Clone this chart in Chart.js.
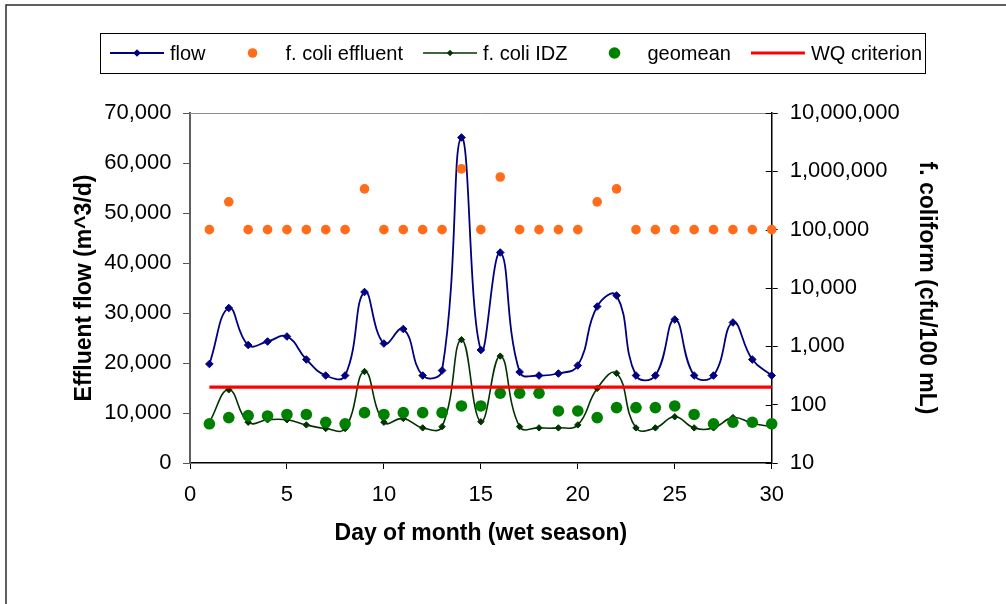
<!DOCTYPE html>
<html>
<head>
<meta charset="utf-8">
<title>Effluent flow and f. coliform (wet season)</title>
<script src="https://cdn.jsdelivr.net/npm/chart.js@4.4.1/dist/chart.umd.min.js"></script>
<style>
  html, body { margin: 0; padding: 0; background: #fff; }
  #wrap { position: relative; width: 1006px; height: 604px; }
</style>
</head>
<body>
<div id="wrap"><canvas id="chart" width="1006" height="604"></canvas></div>
<script>
// values, one per day
const days = [1, 2, 3, 4, 5, 6, 7, 8, 9, 10, 11, 12, 13, 14, 15, 16, 17, 18, 19, 20, 21, 22, 23, 24, 25, 26, 27, 28, 29, 30];
const flow = [19800, 31000, 23600, 24300, 25300, 20700, 17500, 17500, 34200, 23900, 26800, 17500, 18500, 65100, 22600,
              42100, 18200, 17500, 17900, 19500, 31300, 33500, 17500, 17500, 28700, 17500, 17500, 28100, 20700, 17500];
const fcoliEffluent = [100000, 300000, 100000, 100000, 100000, 100000, 100000, 100000, 500000, 100000, 100000, 100000, 100000, 1100000, 100000,
                       800000, 100000, 100000, 100000, 100000, 300000, 500000, 100000, 100000, 100000, 100000, 100000, 100000, 100000, 100000];
const fcoliIDZ = [50, 180, 50, 55, 55, 45, 39, 39, 370, 50, 58, 40, 42, 1300, 51,
                  680, 42, 40, 40, 45, 190, 345, 40, 40, 62, 40, 40, 60, 48, 42];
const geomean = [47, 60, 65, 64, 68, 68, 50, 47, 73, 68, 73, 73, 73, 95, 95,
                 157, 157, 157, 78, 78, 60, 89, 89, 89, 95, 68, 47, 50, 50, 47];
const wqDays = [1, 30];
const wqCriterion = [200, 200];

const dayTicks = [0, 5, 10, 15, 20, 25, 30];
const flowTicks = [0, 10000, 20000, 30000, 40000, 50000, 60000, 70000];
const coliTicks = [10, 100, 1000, 10000, 100000, 1000000, 10000000];

const FONT = "'Liberation Sans', Arial, sans-serif";

function points(xs, ys) {
  return xs.map((x, i) => ({ x: x, y: ys[i] }));
}

function commas(v) {
  return String(Math.round(v)).replace(/\B(?=(\d{3})+(?!\d))/g, ',');
}

function fixTicks(list) {
  return scale => { scale.ticks = list.map(v => ({ value: v })); };
}

// outer frame, plot top border, inner half of right-axis ticks
const frame = {
  id: 'frame',
  beforeDatasetsDraw(chart) {
    const { ctx, chartArea: a } = chart;
    ctx.save();
    ctx.strokeStyle = '#8c8c8c';
    ctx.lineWidth = 1;
    ctx.beginPath();
    ctx.moveTo(a.left, Math.round(a.top) + 0.5);
    ctx.lineTo(a.right, Math.round(a.top) + 0.5);
    ctx.stroke();

    const yc = chart.scales.yColi;
    ctx.strokeStyle = '#000';
    ctx.beginPath();
    coliTicks.forEach(v => {
      const y = Math.round(yc.getPixelForValue(v)) + 0.5;
      ctx.moveTo(a.right - 6, y);
      ctx.lineTo(a.right, y);
    });
    ctx.stroke();

    ctx.strokeStyle = '#2b2b2b';
    ctx.lineWidth = 1.5;
    ctx.strokeRect(6, 5, 1100, 700);
    ctx.restore();
  }
};

// Excel-style boxed legend
const legendBox = {
  id: 'legendBox',
  afterDraw(chart) {
    const ctx = chart.ctx;
    const box = { x: 100, y: 33, w: 825, h: 40 };
    const cy = box.y + box.h / 2;
    ctx.save();
    ctx.strokeStyle = '#000';
    ctx.lineWidth = 1;
    ctx.strokeRect(box.x + 0.5, box.y + 0.5, box.w, box.h);
    ctx.font = '20px ' + FONT;
    ctx.textBaseline = 'middle';
    let x = box.x + 10;
    chart.data.datasets.forEach(ds => {
      const mid = x + 27;
      if (ds.showLine !== false) {
        ctx.strokeStyle = ds.borderColor;
        ctx.lineWidth = ds.borderWidth;
        ctx.beginPath();
        ctx.moveTo(x, cy);
        ctx.lineTo(x + 54, cy);
        ctx.stroke();
      }
      if (ds.pointRadius > 0) {
        const r = ds.pointRadius;
        ctx.fillStyle = ds.pointBackgroundColor;
        ctx.beginPath();
        if (ds.pointStyle === 'rectRot') {
          ctx.moveTo(mid, cy - r);
          ctx.lineTo(mid + r, cy);
          ctx.lineTo(mid, cy + r);
          ctx.lineTo(mid - r, cy);
          ctx.closePath();
        } else {
          ctx.arc(mid, cy, r, 0, Math.PI * 2);
        }
        ctx.fill();
      }
      ctx.fillStyle = '#000';
      ctx.fillText(ds.label, x + 60, cy + 1);
      x += 60 + ctx.measureText(ds.label).width + 20;
    });
    ctx.restore();
  }
};

const tickFont = { family: FONT, size: 22 };
const titleFont = { family: FONT, size: 23, weight: 'bold' };

new Chart(document.getElementById('chart'), {
  type: 'line',
  data: {
    datasets: [
      {
        label: 'flow',
        data: points(days, flow),
        yAxisID: 'yFlow',
        borderColor: '#000080',
        borderWidth: 1.8,
        tension: 0.45,
        pointStyle: 'rectRot',
        pointRadius: 3.8,
        pointBorderWidth: 1,
        pointBackgroundColor: '#000080',
        pointBorderColor: '#000080',
        order: 5,
        clip: false
      },
      {
        label: 'f. coli effluent',
        data: points(days, fcoliEffluent),
        yAxisID: 'yColi',
        showLine: false,
        pointStyle: 'circle',
        pointRadius: 4.8,
        pointBorderWidth: 0,
        pointBackgroundColor: '#ff6d1a',
        borderColor: '#ff6d1a',
        order: 4,
        clip: false
      },
      {
        label: 'f. coli IDZ',
        data: points(days, fcoliIDZ),
        yAxisID: 'yColi',
        borderColor: '#003300',
        borderWidth: 1.6,
        tension: 0.45,
        pointStyle: 'rectRot',
        pointRadius: 3.2,
        pointBorderWidth: 1,
        pointBackgroundColor: '#003300',
        pointBorderColor: '#003300',
        order: 3,
        clip: false
      },
      {
        label: 'geomean',
        data: points(days, geomean),
        yAxisID: 'yColi',
        showLine: false,
        pointStyle: 'circle',
        pointRadius: 5.8,
        pointBorderWidth: 0,
        pointBackgroundColor: '#008000',
        borderColor: '#008000',
        order: 2,
        clip: false
      },
      {
        label: 'WQ criterion',
        data: points(wqDays, wqCriterion),
        yAxisID: 'yColi',
        borderColor: '#ff0000',
        borderWidth: 3.2,
        pointRadius: 0,
        pointBackgroundColor: '#ff0000',
        order: 1,
        clip: false
      }
    ]
  },
  options: {
    responsive: false,
    animation: false,
    layout: { padding: { top: 113, left: 0, right: 0, bottom: 0 } },
    plugins: {
      legend: { display: false },
      tooltip: { enabled: false }
    },
    scales: {
      x: {
        type: 'linear',
        position: 'bottom',
        min: 0,
        max: 30,
        afterBuildTicks: fixTicks(dayTicks),
        afterFit: s => { s.height = 141; },
        ticks: { color: '#000', font: tickFont, padding: 13, maxRotation: 0 },
        grid: { drawOnChartArea: false, drawTicks: true, tickLength: 6, color: '#000' },
        border: { color: '#000', width: 1.5 },
        title: {
          display: true,
          text: 'Day of month (wet season)',
          color: '#000',
          font: titleFont,
          padding: { top: 0, bottom: 57 }
        }
      },
      yFlow: {
        type: 'linear',
        position: 'left',
        min: 0,
        max: 70000,
        afterBuildTicks: fixTicks(flowTicks),
        afterFit: s => { s.width = 190; },
        ticks: { color: '#000', font: tickFont, padding: 11.5, callback: v => commas(v) },
        grid: { drawOnChartArea: false, drawTicks: true, tickLength: 7, color: '#555' },
        border: { color: '#5f5f5f', width: 2 },
        title: {
          display: true,
          text: 'Effluent flow (m^3/d)',
          color: '#000',
          font: titleFont,
          padding: { top: 71, bottom: 0 }
        }
      },
      yColi: {
        type: 'logarithmic',
        position: 'right',
        min: 10,
        max: 10000000,
        afterBuildTicks: fixTicks(coliTicks),
        afterFit: s => { s.width = 234.3; },
        ticks: { color: '#000', font: tickFont, padding: 12, callback: v => commas(v) },
        grid: { drawOnChartArea: false, drawTicks: true, tickLength: 6, color: '#000' },
        border: { color: '#000', width: 1.5 },
        title: {
          display: true,
          text: 'f. coliform (cfu/100 mL)',
          color: '#000',
          font: titleFont,
          padding: { top: 66, bottom: 0 }
        }
      }
    }
  },
  plugins: [frame, legendBox]
});
</script>
</body>
</html>
